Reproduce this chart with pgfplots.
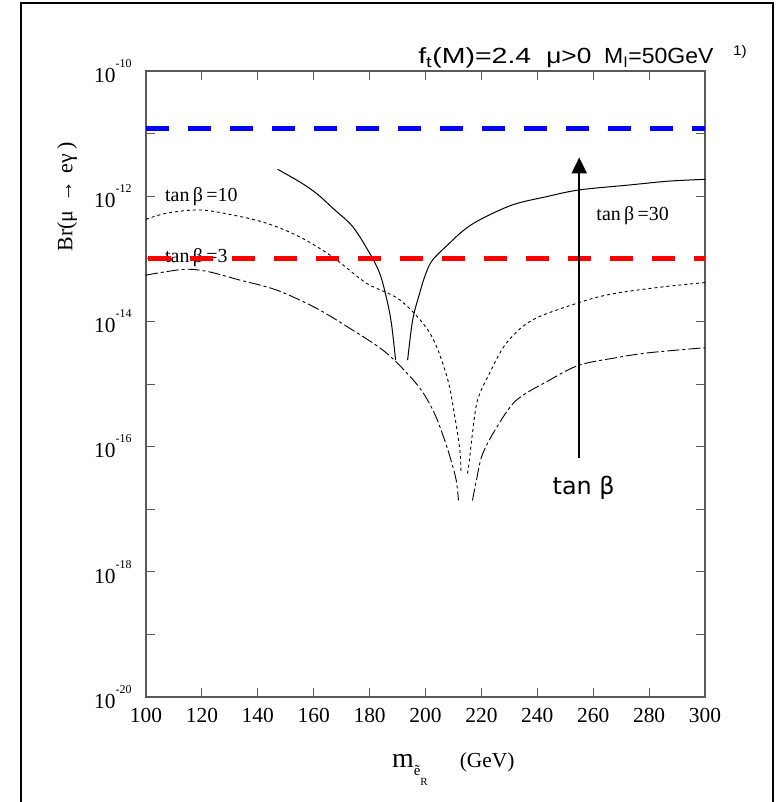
\documentclass[border=0pt]{standalone}
\usepackage{fontspec}
\setmainfont{Liberation Serif}
\newfontfamily\arialf{Liberation Sans}
\newfontfamily\dejavu{DejaVu Sans}
\usepackage{pgfplots}
\pgfplotsset{compat=1.18}
\usetikzlibrary{arrows.meta}
\newcommand\ee[1]{10\raisebox{15bp}{\fontsize{12}{12}\selectfont #1}}
\begin{document}
\begin{tikzpicture}[x=1bp,y=1bp]
\useasboundingbox (-146,-105) rectangle (634,697);
\draw[line width=2.5bp] (-125,-130) -- (-125,694) -- (627,694) -- (627,-130);
\begin{axis}[
  at={(0,0)}, anchor=south west,
  scale only axis, width=559bp, height=626bp,
  xmin=100, xmax=300, ymode=log, ymin=1e-20, ymax=1e-10,
  enlargelimits=false,
  xtick={100,120,...,300},
  ytick={1e-20,1e-19,1e-18,1e-17,1e-16,1e-15,1e-14,1e-13,1e-12,1e-11,1e-10},
  yticklabels={{\ee{-20}},{},{\ee{-18}},{},{\ee{-16}},{},{\ee{-14}},{},{\ee{-12}},{},{\ee{-10}}},
  xminorticks=false, yminorticks=false,
  /pgf/number format/assume math mode=true,
  tick label style={font=\fontsize{21.5}{21.5}\selectfont},
  xticklabel style={yshift=-8bp},
  yticklabel style={xshift=-11bp},
  axis line style={gray!70!black, line width=1.2bp},
  tick style={gray!70!black, line width=1bp},
  major tick length=9bp,
  clip mode=individual,
]
% tan beta = 30 (solid)
\addplot[black, line width=1bp, smooth, tension=0.55] coordinates {
(147.1,2.69e-12) (155.7,1.62e-12) (161.4,1.07e-12) (166.8,6.46e-13) (174,3.24e-13) (180,1.23e-13)
(183.6,5.89e-14) (186,2.40e-14) (187.8,9.33e-15) (189.3,2.40e-15)};
\addplot[black, line width=1bp, smooth, tension=0.55] coordinates {
(193.6,2.40e-15) (195.4,1.05e-14) (197.9,2.82e-14) (200,5.62e-14) (202.5,9.55e-14)
(208.6,1.78e-13) (213.5,2.82e-13) (219.3,4.17e-13) (231,7.24e-13) (243,9.77e-13)
(255,1.26e-12) (272.9,1.51e-12) (287,1.74e-12) (300,1.86e-12)};
% tan beta = 10 (dotted)
\addplot[black, line width=0.9bp, dash pattern=on 3bp off 3bp, smooth, tension=0.55] coordinates {
(100,4.27e-13) (107.5,5.37e-13) (119.3,6.03e-13) (131,5.01e-13) (143,3.72e-13)
(155,2.24e-13) (166.8,1.07e-13) (178.9,4.07e-14) (190.9,2.19e-14) (201.6,6.46e-15)
(207.7,1.29e-15) (210.5,2.95e-16) (212.3,8.71e-17) (212.7,3.80e-17)};
\addplot[black, line width=0.9bp, dash pattern=on 3bp off 3bp, smooth, tension=0.55] coordinates {
(215,3.72e-17) (215.7,6.03e-17) (216.8,1.62e-16) (218.6,5.50e-16) (222.9,1.48e-15)
(228.9,4.47e-15) (238.2,1.05e-14) (255,2.00e-14) (266.8,2.75e-14) (284.6,3.55e-14)
(300,4.17e-14)};
% tan beta = 3 (dash-dot)
\addplot[black, line width=0.9bp, dash pattern=on 12bp off 3bp on 3bp off 3bp, smooth, tension=0.55] coordinates {
(100,5.50e-14) (113.3,6.76e-14) (121.7,6.31e-14) (133.6,4.57e-14) (146.8,3.16e-14)
(161,1.62e-14) (172.9,7.76e-15) (183.6,3.80e-15) (190,2.14e-15) (197.9,8.71e-16)
(203,3.55e-16) (206.5,1.41e-16) (209,6.31e-17) (211,2.88e-17) (211.8,1.38e-17)};
\addplot[black, line width=0.9bp, dash pattern=on 12bp off 3bp on 3bp off 3bp, smooth, tension=0.55] coordinates {
(216.8,1.38e-17) (218.2,2.88e-17) (220.4,7.59e-17) (225.4,2.00e-16) (232.5,5.50e-16)
(244.3,1.15e-15) (255,2.00e-15) (268.2,2.63e-15) (280,3.16e-15) (300,3.80e-15)};
% labels
\node[anchor=base west, inner sep=0, font=\fontsize{20}{20}\selectfont] at (axis cs:106.8,8.3e-13) {tan\,β\,=10};
\node[anchor=base west, inner sep=0, font=\fontsize{20}{20}\selectfont] at (axis cs:106.8,8.79e-14) {tan\,β\,=3};
\node[anchor=base west, inner sep=0, font=\fontsize{20}{20}\selectfont] at (axis cs:261.1,4.13e-13) {tan\,β\,=30};
% experimental limits
\addplot[blue, line width=5bp, dash pattern=on 23bp off 19bp] coordinates {(100,1.2e-11) (300,1.2e-11)};
\addplot[red, line width=5bp, dash pattern=on 23bp off 19bp] coordinates {(100.7,1e-13) (300,1e-13)};
% arrow
\addplot[black, line width=2bp, -{Triangle[width=15bp,length=16bp]}] coordinates {(255,6.46e-17) (255,4.17e-12)};
\node[anchor=base, inner sep=0, font=\dejavu\fontsize{24}{24}\selectfont] at (axis cs:256.6,1.70e-17) {tan β};
% title
\node[anchor=base west, inner sep=0, xscale=1.3, font=\arialf\fontsize{22}{22}\selectfont] at (rel axis cs:0.4866,1.0112) {f\textsubscript{t}(M)=2.4};
\node[anchor=base west, inner sep=0, xscale=1.2, font=\arialf\fontsize{22}{22}\selectfont] at (rel axis cs:0.7156,1.0112) {μ>0};
\node[anchor=base west, inner sep=0, xscale=1.05, font=\arialf\fontsize{22}{22}\selectfont] at (rel axis cs:0.8193,1.0112) {M\textsubscript{I}=50GeV};
\node[anchor=base west, inner sep=0, xscale=1.1, font=\arialf\fontsize{14}{14}\selectfont] at (rel axis cs:1.050,1.0240) {1)};
% axis labels
\node[rotate=90, inner sep=0, font=\fontsize{22}{22}\selectfont] at (rel axis cs:-0.1413,0.799) {Br(μ\hspace{0.35em}→\hspace{0.35em}eγ\hspace{0.2em})};
\node[anchor=base west, inner sep=0] at (rel axis cs:0.44,-0.1118) {\fontsize{28}{28}\selectfont m\raisebox{-8bp}{\fontsize{15}{15}\selectfont ẽ}\raisebox{-18bp}{\fontsize{11}{11}\selectfont R}\hspace{32bp}\fontsize{21.5}{21.5}\selectfont (GeV)};
\end{axis}
\end{tikzpicture}
\end{document}
